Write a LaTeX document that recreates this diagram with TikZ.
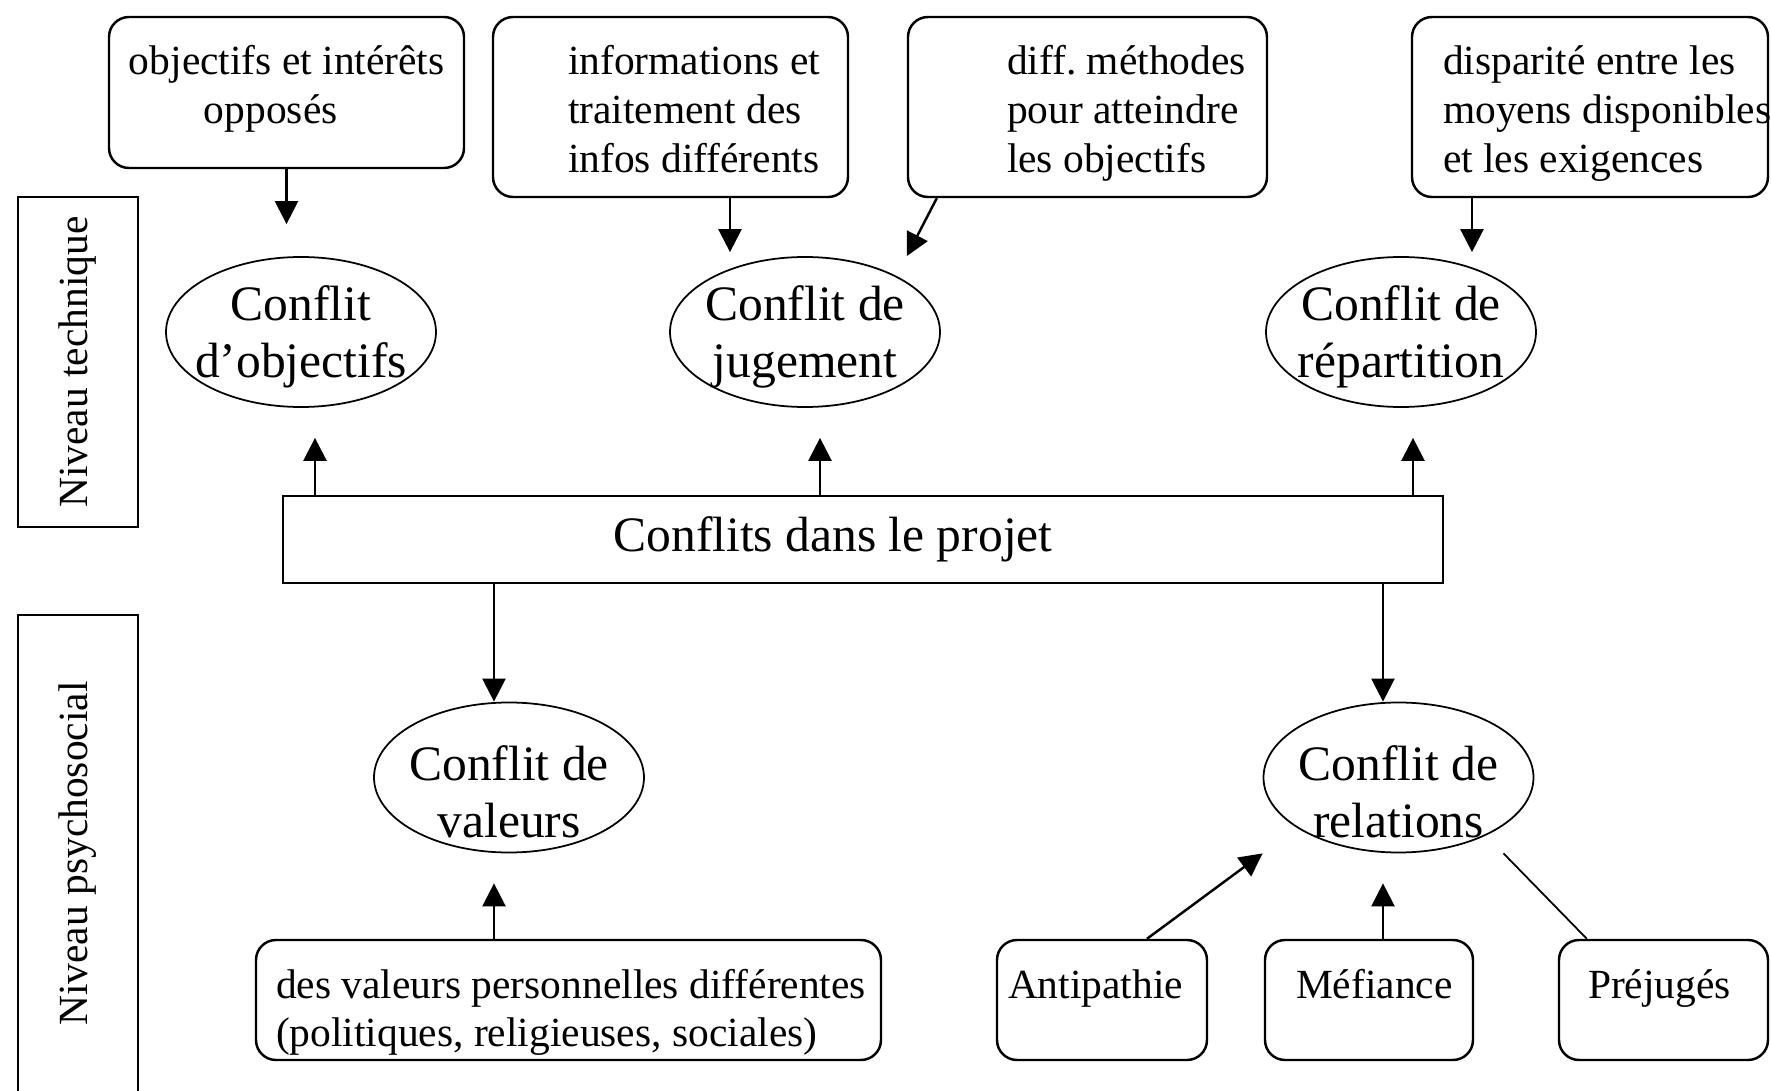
\documentclass[tikz,border=0pt]{standalone}
\usepackage{fontspec}
\setmainfont{Liberation Serif}
\usetikzlibrary{arrows.meta, shapes.geometric}

% texte en lignes, aligne a gauche avec retrait
\newcommand{\boxlines}[3]{\makebox[#1][l]{\hspace*{#2}\begin{tabular}[t]{@{}l@{}}#3\end{tabular}}}

\begin{document}
\begin{tikzpicture}[
    smalltxt/.style={font=\fontsize{11.8}{13.9}\selectfont},
    bigtxt/.style={font=\fontsize{14.1}{16.2}\selectfont, align=center},
    lbl/.style={bigtxt, yshift=#1},
    cause/.style={draw, line width=0.7pt, rounded corners=0.2cm, inner sep=0pt, smalltxt, text height=0.3cm},
    topbox/.style={cause, minimum height=1.8cm, text depth=0.94cm},
    lowbox/.style={cause, minimum height=1.2cm, text depth=0.34cm},
    niveau/.style={draw, line width=0.7pt, rotate=90, minimum height=1.2cm, inner sep=0pt, smalltxt},
    confl/.style={draw, ellipse, line width=0.5pt, minimum width=2.7cm, minimum height=1.5cm, inner sep=0pt},
    arr/.style={-{Triangle[length=2.3mm, width=2.3mm]}, line width=0.7pt}
]
    \useasboundingbox (0,0) rectangle (17.71,10.90);

    % Niveaux
    \node[niveau, minimum width=3.3cm] (nivtech) at (0.78,7.28) {Niveau technique};
    \node[niveau, minimum width=4.77cm] (nivpsy) at (0.78,2.365) {Niveau psychosocial};

    % Causes (niveau technique)
    \node[cause, minimum height=1.51cm, text depth=0.65cm] (objbox) at (2.865,9.975)
        {\boxlines{3.55cm}{0.2cm}{objectifs et intérêts\\\hspace*{0.75cm}opposés}};
    \node[topbox] (infbox) at (6.705,9.83)
        {\boxlines{3.55cm}{0.75cm}{informations et\\traitement des\\infos différents}};
    \node[topbox] (methbox) at (10.875,9.83)
        {\boxlines{3.59cm}{0.99cm}{diff.\ méthodes\\pour atteindre\\les objectifs}};
    \node[topbox] (dispbox) at (15.9,9.83)
        {\boxlines{3.56cm}{0.31cm}{disparité entre les\\moyens disponibles\\et les exigences}};

    % Conflits techniques
    \node[confl, label={[lbl=-0.05cm]center:Conflit\\d’objectifs}] (cobj) at (3.01,7.58) {};
    \node[confl, label={[lbl=-0.05cm]center:Conflit de\\jugement}] (cjug) at (8.05,7.58) {};
    \node[confl, label={[lbl=-0.05cm]center:Conflit de\\répartition}] (crep) at (14.01,7.58) {};

    % Bloc central
    \node[draw, line width=0.7pt, minimum width=11.6cm, minimum height=0.87cm, inner sep=0pt, bigtxt] (proj) at (8.63,5.505)
        {Conflits dans le projet\hspace*{0.6cm}};

    % Conflits psychosociaux
    \node[confl, label={[lbl=-0.14cm]center:Conflit de\\valeurs}] (cval) at (5.09,3.125) {};
    \node[confl, label={[lbl=-0.14cm]center:Conflit de\\relations}] (crel) at (13.985,3.125) {};

    % Causes (niveau psychosocial)
    \node[lowbox] (valbox) at (5.685,0.9)
        {\boxlines{6.25cm}{0.2cm}{des valeurs personnelles différentes\\(politiques, religieuses, sociales)}};
    \node[lowbox] (antibox) at (11.02,0.9) {\boxlines{2.1cm}{0.11cm}{Antipathie}};
    \node[lowbox] (mefbox) at (13.69,0.9) {\boxlines{2.08cm}{0.31cm}{Méfiance}};
    \node[lowbox] (prejbox) at (16.635,0.9) {\boxlines{2.09cm}{0.29cm}{Préjugés}};

    % Fleches du haut
    \draw[arr, shorten >=0.32cm] (objbox.south) -- (objbox.south |- cobj.north);
    \draw[arr, shorten >=0.04cm] ([xshift=-0.75cm]cjug.north |- infbox.south) -- ([xshift=-0.75cm]cjug.north);
    \draw[arr] ([xshift=0.3cm]methbox.south west) -- (methbox.west |- cjug.north);
    \draw[arr, shorten >=0.04cm] ([xshift=0.71cm]crep.north |- dispbox.south) -- ([xshift=0.71cm]crep.north);

    % Du projet vers les conflits
    \draw[arr, shorten >=0.3cm] ([xshift=0.14cm]cobj.south |- proj.north) -- ([xshift=0.14cm]cobj.south);
    \draw[arr, shorten >=0.3cm] ([xshift=0.15cm]cjug.south |- proj.north) -- ([xshift=0.15cm]cjug.south);
    \draw[arr, shorten >=0.3cm] ([xshift=0.12cm]crep.south |- proj.north) -- ([xshift=0.12cm]crep.south);
    \draw[arr] ([xshift=-0.15cm]cval.north |- proj.south) -- ([xshift=-0.15cm]cval.north);
    \draw[arr] ([xshift=-0.155cm]crel.north |- proj.south) -- ([xshift=-0.155cm]crel.north);

    % Fleches du bas
    \draw[arr, shorten >=0.3cm] ([xshift=-0.15cm]cval.south |- valbox.north) -- ([xshift=-0.15cm]cval.south);
    \draw[arr] ([xshift=0.45cm]antibox.north) -- (crel.west |- crel.south);
    \draw[arr, shorten >=0.3cm] ([xshift=-0.155cm]crel.south |- mefbox.north) -- ([xshift=-0.155cm]crel.south);
    \draw[line width=0.5pt] ([xshift=0.29cm]prejbox.north west) -- ([xshift=1.05cm]crel.south);
\end{tikzpicture}
\end{document}
